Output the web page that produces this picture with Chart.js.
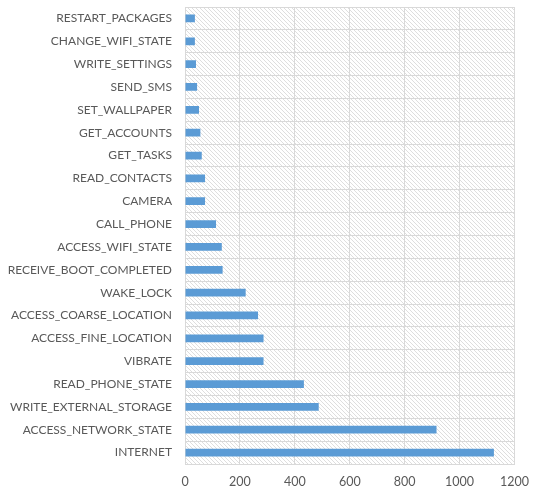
<!DOCTYPE html>
<html>
<head>
<meta charset="utf-8">
<script src="https://cdn.jsdelivr.net/npm/chart.js@4"></script>
<style>
  body { margin: 0; background: #fff; }
  .wrap { width: 539px; height: 488px; }
</style>
</head>
<body>
<div class="wrap"><canvas id="chart"></canvas></div>
<script>
// --- DATA ---
const permissions = [
  'RESTART_PACKAGES', 'CHANGE_WIFI_STATE', 'WRITE_SETTINGS', 'SEND_SMS',
  'SET_WALLPAPER', 'GET_ACCOUNTS', 'GET_TASKS', 'READ_CONTACTS', 'CAMERA',
  'CALL_PHONE', 'ACCESS_WIFI_STATE', 'RECEIVE_BOOT_COMPLETED', 'WAKE_LOCK',
  'ACCESS_COARSE_LOCATION', 'ACCESS_FINE_LOCATION', 'VIBRATE',
  'READ_PHONE_STATE', 'WRITE_EXTERNAL_STORAGE', 'ACCESS_NETWORK_STATE', 'INTERNET'
];
const appCounts = [
  36, 36, 40, 44, 51, 56, 61, 73, 73, 113,
  134, 137, 221, 266, 286, 286, 433, 487, 916, 1125
];
const xTicks = [0, 200, 400, 600, 800, 1000, 1200];

// hatched plot background
function makeHatch() {
  const c = document.createElement('canvas');
  c.width = 4; c.height = 4;
  const g = c.getContext('2d');
  g.fillStyle = '#ffffff';
  g.fillRect(0, 0, 4, 4);
  g.fillStyle = '#dedede';
  for (let i = 0; i < 4; i++) g.fillRect(i, i, 1, 1);
  return c;
}

const hatchPlugin = {
  id: 'hatch',
  beforeDraw(chart) {
    const { ctx, chartArea: a } = chart;
    ctx.save();
    ctx.fillStyle = ctx.createPattern(makeHatch(), 'repeat');
    ctx.fillRect(a.left, a.top, a.right - a.left, a.bottom - a.top);
    ctx.restore();
  }
};

const ctx = document.getElementById('chart').getContext('2d');
new Chart(ctx, {
  type: 'bar',
  data: {
    labels: permissions,
    datasets: [{
      data: appCounts,
      backgroundColor: '#5b9bd5',
      barPercentage: 0.34,
      categoryPercentage: 1
    }]
  },
  options: {
    indexAxis: 'y',
    responsive: true,
    maintainAspectRatio: false,
    animation: false,
    layout: { padding: { top: 0, right: 19, left: 0, bottom: 0 } },
    plugins: { legend: { display: false }, tooltip: { enabled: false } },
    scales: {
      x: {
        min: 0, max: 1200,
        afterBuildTicks: (s) => { s.ticks = xTicks.map(v => ({ value: v })); },
        afterFit: (s) => { s.height = 24; },
        grid: { color: '#d9d9d9', drawTicks: false },
        border: { color: '#d9d9d9' },
        ticks: {
          color: '#595959', font: { family: 'Lato', size: 12.5 }, padding: 10,
          callback: (v) => String(v)
        }
      },
      y: {
        afterFit: (s) => { s.width = 185; s.paddingTop = 7; s.paddingBottom = 0; },
        grid: { color: '#d9d9d9', drawTicks: false },
        border: { color: '#d9d9d9' },
        ticks: { color: '#595959', font: { family: 'Lato', size: 12 }, padding: 13, autoSkip: false }
      }
    }
  },
  plugins: [hatchPlugin]
});
</script>
</body>
</html>
